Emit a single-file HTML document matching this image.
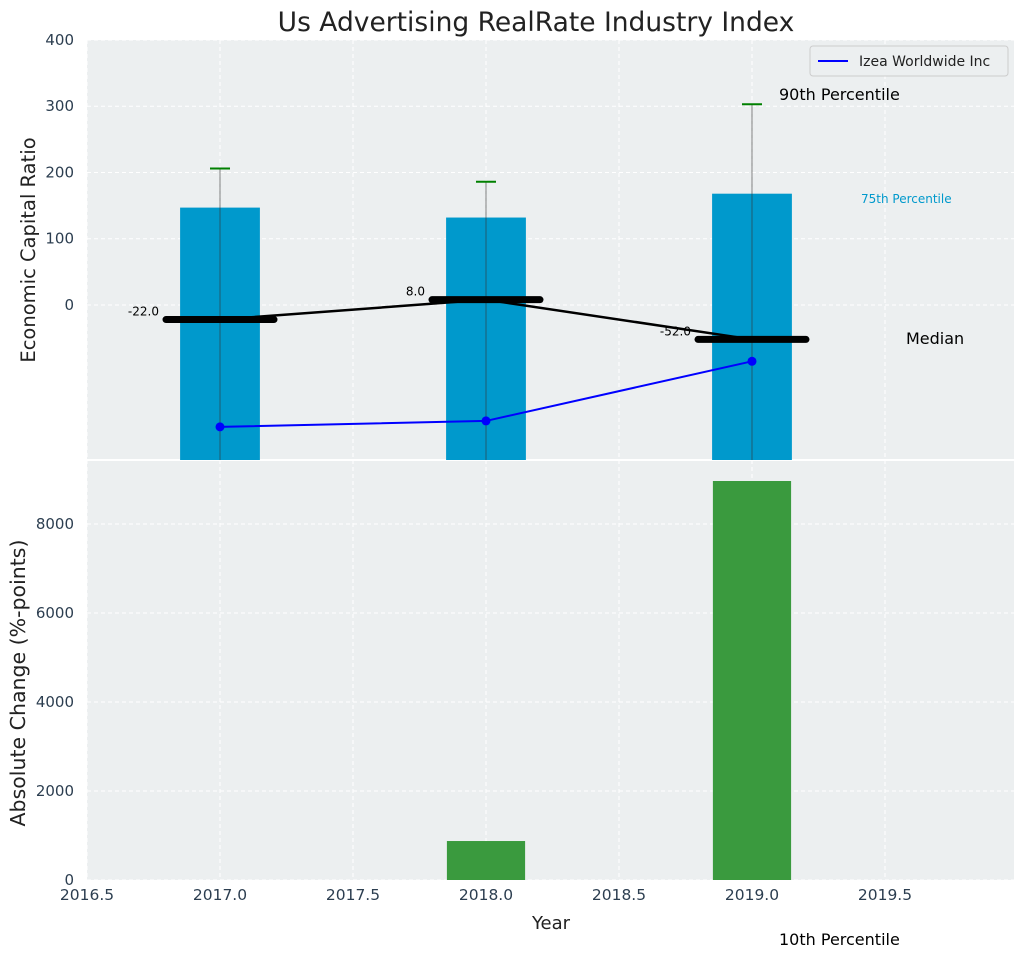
<!DOCTYPE html>
<html><head><meta charset="utf-8"><style>
body{margin:0;background:#fff;font-family:"Liberation Sans","DejaVu Sans",sans-serif}
svg text{font-family:"DejaVu Sans","Liberation Sans",sans-serif}
</style></head><body>
<svg id="chart" width="1026" height="959" xmlns="http://www.w3.org/2000/svg"></svg>
<script>
const years=[2017,2018,2019];
const p75=[147,132,168];
const p90=[206,186,303];
const medians=[-22,8,-52];
const izea=[-184,-175,-85];
const absChange=[0,876,8966];
const xTicks=[2016.5,2017.0,2017.5,2018.0,2018.5,2019.0,2019.5];
const yTopTicks=[0,100,200,300,400];
const yBotTicks=[0,2000,4000,6000,8000];

const NS="http://www.w3.org/2000/svg";
const svg=document.getElementById('chart');
const L=87,R=1014,T1=40,B1=460,T2=460,B2=880;
const X=v=>L+(v-2016.5)/(2019.985-2016.5)*(R-L);
const Y1=v=>T1+(400-v)/(400-(-234))*(B1-T1);
const Y2=v=>B2-v/9438*(B2-T2);
function el(tag,attrs,name,text){const e=document.createElementNS(NS,tag);for(const k in attrs)e.setAttribute(k,attrs[k]);


if(text!==undefined)e.textContent=text;svg.appendChild(e);return e;}

el('rect',{x:L,y:T1,width:R-L,height:B1-T1,fill:'#eceff0'},'top-plot-area');
el('rect',{x:L,y:T2,width:R-L,height:B2-T2,fill:'#eceff0'},'bottom-plot-area');
el('line',{x1:L,x2:R,y1:460,y2:460,stroke:'#fff','stroke-width':2},'axes-divider');
xTicks.forEach(t=>{const x=X(t);
 el('line',{x1:x,x2:x,y1:T1,y2:B2,stroke:'#fff','stroke-dasharray':'4,3','stroke-width':1},'x-grid');
 el('text',{x:x,y:900,'text-anchor':'middle','font-size':15.5,fill:'#2c3e50'},'x-tick-label',t.toFixed(1));});
yTopTicks.forEach(t=>{const y=Y1(t);
 el('line',{x1:L,x2:R,y1:y,y2:y,stroke:'#fff','stroke-dasharray':'4,3'},'y-grid-top');
 el('text',{x:74,y:y+5,'text-anchor':'end','font-size':15,fill:'#2c3e50'},'y-tick-label-top',String(t));});
yBotTicks.forEach(t=>{const y=Y2(t);
 el('line',{x1:L,x2:R,y1:y,y2:y,stroke:'#fff','stroke-dasharray':'4,3'},'y-grid-bottom');
 el('text',{x:74,y:y+5,'text-anchor':'end','font-size':15,fill:'#2c3e50'},'y-tick-label-bottom',String(t));});
const bw=X(0.3)-X(0);
years.forEach((yr,i)=>{const x=X(yr);
 el('rect',{x:x-bw/2,y:Y1(p75[i]),width:bw,height:B1-Y1(p75[i]),fill:'#0099cc'},'bar-75th-'+yr);
 el('line',{x1:x,x2:x,y1:Y1(p90[i]),y2:B1,stroke:'#333','stroke-opacity':0.6,'stroke-width':1},'error-bar-'+yr);
 el('line',{x1:x-10,x2:x+10,y1:Y1(p90[i]),y2:Y1(p90[i]),stroke:'green','stroke-width':2},'error-cap-'+yr);
 if(absChange[i]>0) el('rect',{x:x-bw*0.49,y:Y2(absChange[i]),width:bw*0.98,height:B2-Y2(absChange[i]),fill:'#3a9a3e'},'bar-change-'+yr);
});
el('polyline',{points:years.map((y,i)=>X(y)+','+Y1(medians[i])).join(' '),fill:'none',stroke:'#000','stroke-width':2.5},'median-line');
years.forEach((yr,i)=>{const x=X(yr),y=Y1(medians[i]);
 el('line',{x1:x-54,x2:x+54,y1:y,y2:y,stroke:'#000','stroke-width':7,'stroke-linecap':'round'},'median-marker-'+yr);
 el('text',{x:x-61,y:y-4,'text-anchor':'end','font-size':12,fill:'#000'},'median-label-'+yr,medians[i].toFixed(1));});
el('polyline',{points:years.map((y,i)=>X(y)+','+Y1(izea[i])).join(' '),fill:'none',stroke:'#0000ff','stroke-width':2},'izea-line');
years.forEach((yr,i)=>el('circle',{cx:X(yr),cy:Y1(izea[i]),r:4.5,fill:'#0000ff'},'izea-point-'+yr));
el('text',{x:779,y:100,'font-size':16,fill:'#000'},'annotation-90th','90th Percentile');
el('text',{x:861,y:203,'font-size':12,fill:'#0099cc'},'annotation-75th','75th Percentile');
el('text',{x:906,y:344,'font-size':16,fill:'#000'},'annotation-median','Median');
el('text',{x:779,y:945,'font-size':16,fill:'#000'},'annotation-10th','10th Percentile');
el('rect',{x:810,y:46,width:198,height:30,rx:3,fill:'#eceff0',stroke:'#ccc'},'legend-box');
el('line',{x1:818,x2:848,y1:61,y2:61,stroke:'#0000ff','stroke-width':2},'legend-line');
el('text',{x:859,y:66,'font-size':14,fill:'#222'},'legend-entry','Izea Worldwide Inc');
el('text',{x:536,y:31,'text-anchor':'middle','font-size':26.5,fill:'#222'},'chart-title','Us Advertising RealRate Industry Index');
el('text',{x:551,y:929,'text-anchor':'middle','font-size':18,fill:'#222'},'x-axis-title','Year');
el('text',{x:35,y:250,'text-anchor':'middle','font-size':19.5,fill:'#222',transform:'rotate(-90 35 250)'},'y-axis-title-top','Economic Capital Ratio');
el('text',{x:25,y:683,'text-anchor':'middle','font-size':20.5,fill:'#222',transform:'rotate(-90 25 683)'},'y-axis-title-bottom','Absolute Change (%-points)');
</script>
</body></html>
